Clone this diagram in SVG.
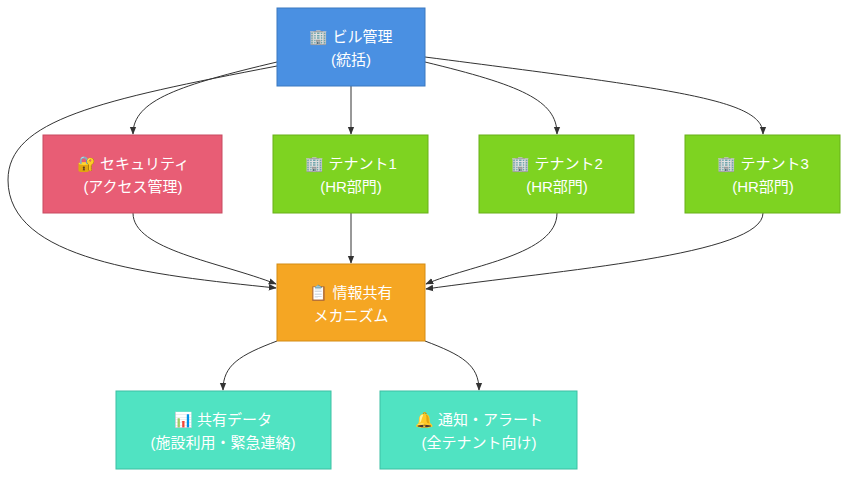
<svg xmlns="http://www.w3.org/2000/svg" width="849" height="478" viewBox="0 0 849 478">
<style>
text{font-family:"Liberation Sans","Noto Sans CJK JP",sans-serif;font-size:15px;fill:#fff;text-anchor:middle}
.e{fill:none;stroke:#333;stroke-width:1}
</style>
<defs><marker id="a" viewBox="0 0 10 10" refX="9" refY="5" markerWidth="8" markerHeight="8" orient="auto"><path d="M0,1L10,5L0,9z" fill="#333"/></marker></defs>
<rect width="849" height="478" fill="#fff"/>
<g id="connectors">
<path class="e" marker-end="url(#a)" d="M277,62 C180,85 133,100 133,134"/>
<path class="e" marker-end="url(#a)" d="M351,86 L351,134"/>
<path class="e" marker-end="url(#a)" d="M425,62 C520,85 557,100 557,134"/>
<path class="e" marker-end="url(#a)" d="M425,57 C680,90 763,100 763,134"/>
<path class="e" marker-end="url(#a)" d="M277,66 C100,100 8,120 8,180 C8,260 150,275 276,288"/>
<path class="e" marker-end="url(#a)" d="M133,213 C133,250 220,262 276,284"/>
<path class="e" marker-end="url(#a)" d="M351,213 L351,263"/>
<path class="e" marker-end="url(#a)" d="M557,213 C557,255 470,265 426,284"/>
<path class="e" marker-end="url(#a)" d="M763,213 C763,255 560,270 426,289"/>
<path class="e" marker-end="url(#a)" d="M277,341 C240,355 223,365 223,390"/>
<path class="e" marker-end="url(#a)" d="M425,341 C462,355 479,365 479,390"/>
</g>
<g id="top"><rect x="277" y="8" width="148" height="78" fill="#4a90e2" stroke="#3a78c0"/><text x="351" y="42">🏢 ビル管理</text><text x="351" y="65">(統括)</text></g>
<g id="security"><rect x="43" y="135" width="179" height="78" fill="#e85d75" stroke="#c84a60"/><text x="133" y="169">🔐 セキュリティ</text><text x="133" y="192">(アクセス管理)</text></g>
<g id="tenant1"><rect x="273" y="135" width="155" height="78" fill="#7ed321" stroke="#68b018"/><text x="351" y="169">🏢 テナント1</text><text x="351" y="192">(HR部門)</text></g>
<g id="tenant2"><rect x="479" y="135" width="155" height="78" fill="#7ed321" stroke="#68b018"/><text x="557" y="169">🏢 テナント2</text><text x="557" y="192">(HR部門)</text></g>
<g id="tenant3"><rect x="685" y="135" width="155" height="78" fill="#7ed321" stroke="#68b018"/><text x="763" y="169">🏢 テナント3</text><text x="763" y="192">(HR部門)</text></g>
<g id="info"><rect x="277" y="264" width="148" height="77" fill="#f5a623" stroke="#d48c15"/><text x="351" y="298">📋 情報共有</text><text x="351" y="321">メカニズム</text></g>
<g id="data"><rect x="116" y="391" width="215" height="78" fill="#50e3c2" stroke="#3cc0a3"/><text x="223" y="425">📊 共有データ</text><text x="223" y="448">(施設利用・緊急連絡)</text></g>
<g id="notify"><rect x="380" y="391" width="197" height="78" fill="#50e3c2" stroke="#3cc0a3"/><text x="479" y="425">🔔 通知・アラート</text><text x="479" y="448">(全テナント向け)</text></g>
</svg>
